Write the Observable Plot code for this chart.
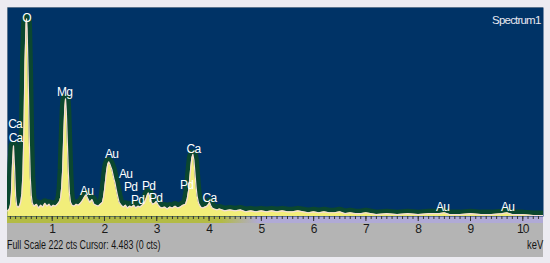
<!DOCTYPE html>
<html>
<head>
<meta charset="utf-8">
<script src="https://cdn.jsdelivr.net/npm/d3@7"></script>
<script src="https://cdn.jsdelivr.net/npm/@observablehq/plot@0.6"></script>
<style>
  html, body { margin: 0; padding: 0; background: #ffffff; }
  #wrap { position: relative; width: 550px; height: 263px; background: #ecebf1; overflow: hidden; font-family: "Liberation Sans", Arial, sans-serif; }
  #panel { position: absolute; left: 7px; top: 7px; width: 536px; height: 250px; background: #b4b4b4; }
  #band { position: absolute; left: 7px; top: 216px; width: 536px; height: 7px;
          background: linear-gradient(to right, #b3bb45 0%, #b3bb45 40%, #b0aad6 47%, #b0aad6 100%); }
  #chart { position: absolute; left: 0; top: 0; }
  .foot { position: absolute; font-size: 12px; color: #141414; white-space: nowrap; transform-origin: left center; }
</style>
</head>
<body>
<div id="wrap">
  <div id="panel"></div>
  <div id="band"></div>
  <div id="chart"></div>
  <div class="foot" id="footL" style="left:7px; top:238px; transform: scaleX(0.74);"></div>
  <div class="foot" id="footR" style="left:527px; top:238px; transform: scaleX(0.78);"></div>
</div>
<script>
// Spectrum (energy in keV, counts)
const energy = [0.15,0.18,0.20,0.22,0.24,0.26,0.28,0.30,0.32,0.34,0.36,0.38,0.40,0.42,0.44,0.46,0.48,0.50,0.51,0.52,0.54,0.56,0.58,0.60,0.62,0.65,0.70,0.74,0.78,0.82,0.86,0.90,0.94,0.98,1.02,1.06,1.10,1.14,1.16,1.18,1.20,1.22,1.24,1.255,1.27,1.29,1.31,1.33,1.35,1.38,1.42,1.46,1.50,1.54,1.58,1.62,1.65,1.68,1.72,1.76,1.80,1.84,1.88,1.92,1.96,1.98,2.00,2.02,2.04,2.06,2.08,2.10,2.12,2.14,2.16,2.18,2.20,2.22,2.25,2.28,2.32,2.36,2.40,2.44,2.48,2.52,2.56,2.60,2.64,2.68,2.72,2.76,2.79,2.82,2.84,2.86,2.89,2.92,2.96,2.99,3.02,3.06,3.10,3.15,3.20,3.25,3.30,3.35,3.40,3.45,3.50,3.55,3.58,3.61,3.63,3.65,3.67,3.69,3.71,3.73,3.75,3.77,3.80,3.84,3.88,3.92,3.96,3.99,4.01,4.03,4.06,4.10,4.15,4.20,4.30,4.40,4.50,4.60,4.70,4.80,4.90,5.00,5.10,5.20,5.30,5.40,5.50,5.60,5.70,5.80,5.90,6.00,6.10,6.20,6.30,6.40,6.50,6.60,6.70,6.80,6.90,7.00,7.20,7.40,7.60,7.80,8.00,8.20,8.40,8.50,8.60,8.80,9.00,9.20,9.40,9.60,9.70,9.80,10.00,10.20,10.40];
const counts = [6,8,12,25,55,75,52,22,12,10,10,12,16,24,45,95,165,205,210,200,150,85,42,22,14,11,13,9,12,10,14,11,13,10,12,11,13,16,20,30,50,85,115,125,112,78,45,24,15,12,11,13,12,14,17,21,23,19,15,18,13,12,11,13,15,20,28,38,48,55,58,56,53,50,45,40,36,30,22,15,12,10,12,9,11,10,12,9,11,10,12,14,18,23,25,22,16,13,14,16,13,10,9,10,8,10,9,11,9,10,12,13,18,28,40,52,62,66,60,46,32,22,14,10,9,10,11,13,15,12,9,8,7,8,6,7,6,7,5,6,5,6,5,6,5,6,5,5,6,5,4,5,4,5,4,4,5,3,4,3,3,4,2,3,2,3,2,3,3,4,2,2,3,2,2,3,4,2,2,1,1];

// Peak labels
const labelNames = ["O","Ca","Ca","Mg","Au","Au","Au","Pd","Pd","Pd","Pd","Pd","Ca","Ca","Au","Au"];
const labelEnergy = [0.51,0.29,0.30,1.235,1.656,2.134,2.402,2.497,2.631,2.842,2.976,3.568,3.702,4.008,8.464,9.707];
const labelCounts = [211,98,83,132,27,66,45,31,17,32,19,33,72,19,9.6,9.6];

// Axis tick labels
const majorTicks = [1,2,3,4,5,6,7,8,9,10];
const minorTicks = d3.range(2, 104).map(i => i / 10);

const title = "Spectrum1";
const footer = "Full Scale 222 cts Cursor: 4.483 (0 cts)";
const unit = "keV";

const spectrum = energy.map((e, i) => ({e, c: counts[i]}));
const labels = labelNames.map((n, i) => ({n, e: labelEnergy[i], c: labelCounts[i]}));

const chart = Plot.plot({
  width: 550,
  height: 263,
  marginLeft: 7,
  marginRight: 7,
  marginTop: 7,
  marginBottom: 47,
  x: {domain: [0.145, 10.396]},
  y: {domain: [0, 222], axis: null},
  style: {background: "transparent", fontFamily: "Liberation Sans, Arial, sans-serif", overflow: "visible"},
  marks: [
    Plot.frame({fill: "#003366", stroke: null}),
    Plot.line(spectrum, {x: "e", y: "c", stroke: "#0b472f", strokeWidth: 10, clip: true}),
    Plot.areaY(spectrum, {x: "e", y: "c", fill: "#f2ee7a", clip: true}),
    Plot.line(spectrum, {x: "e", y: "c", stroke: "#f4ddd8", strokeWidth: 1.2, clip: true}),
    Plot.text(labels, {x: "e", y: "c", text: "n", fill: "#ffffff", fontSize: 12}),
    Plot.text([title], {frameAnchor: "top-right", dx: -3, dy: 8, fill: "#e8e8f0", fontSize: 11.5, textAnchor: "end"}),
    Plot.axisX({ticks: minorTicks, tickSize: 3, stroke: "#333333", text: null, label: null}),
    Plot.axisX({ticks: majorTicks, tickSize: 5, tickPadding: 3, stroke: "#333333", fill: "#1a1a1a", fontSize: 12, tickFormat: d => String(d), label: null})
  ]
});
d3.select(chart).selectAll("text").attr("letter-spacing", "-0.8");
document.getElementById("chart").appendChild(chart);
document.getElementById("footL").textContent = footer;
document.getElementById("footR").textContent = unit;
</script>
</body>
</html>
